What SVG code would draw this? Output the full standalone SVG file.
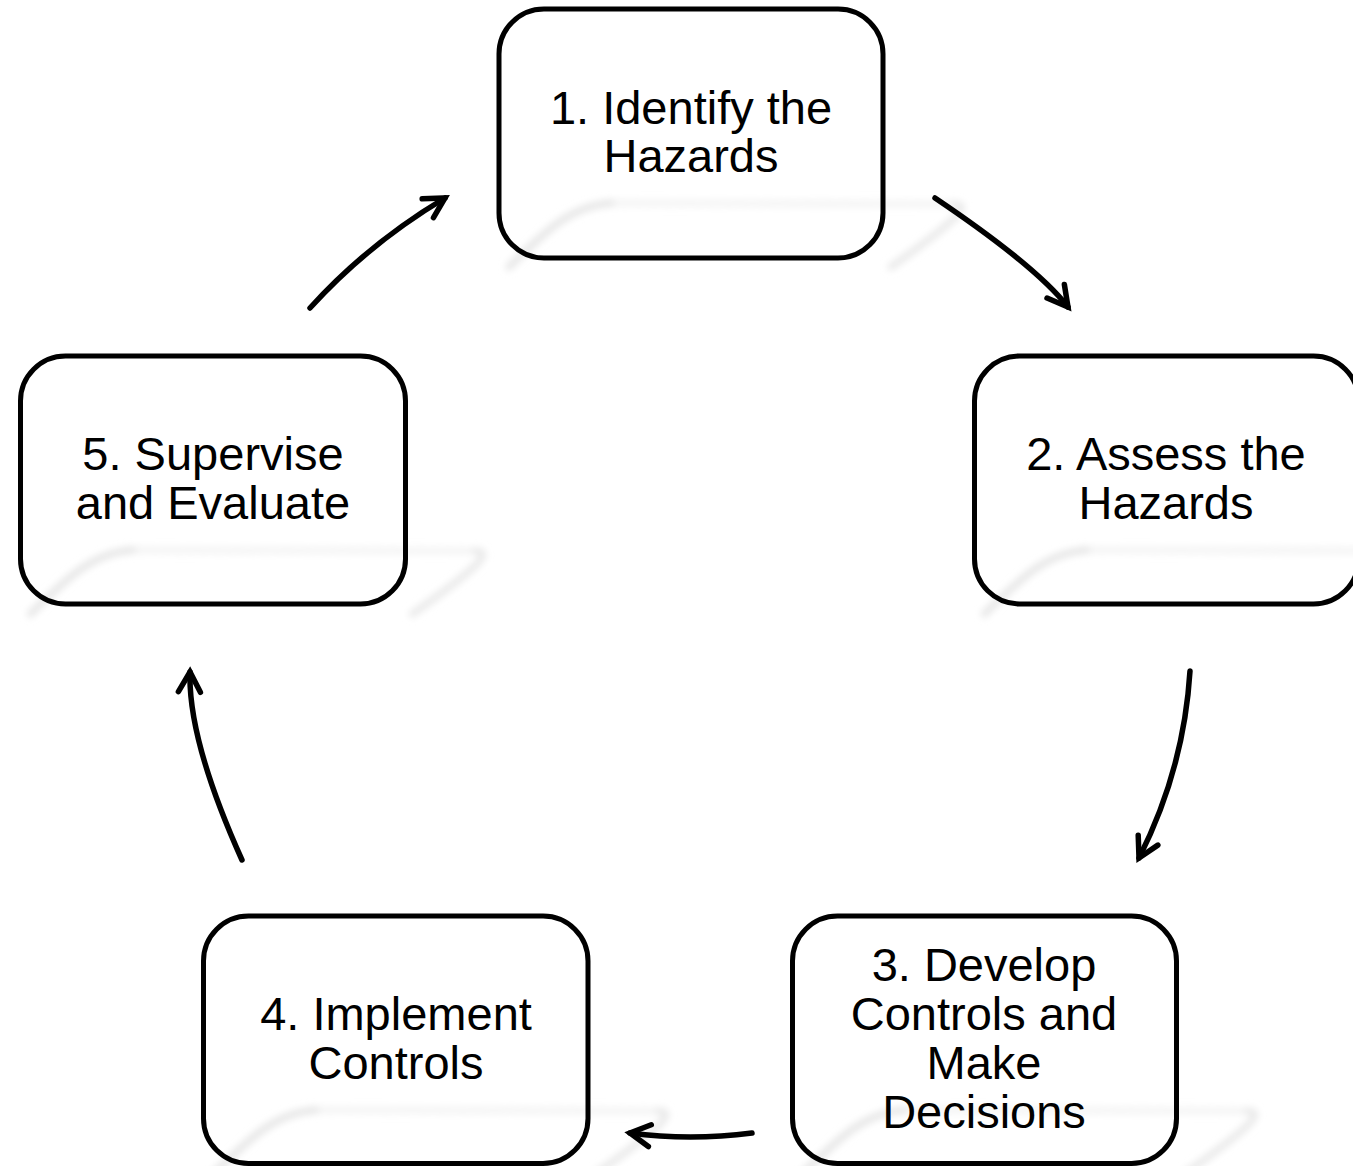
<svg xmlns="http://www.w3.org/2000/svg" xmlns:xlink="http://www.w3.org/1999/xlink" width="1353" height="1166" viewBox="0 0 1353 1166">
  <style>
    .card { fill: #ffffff; stroke: none; }
    .edge { fill: none; stroke: #000000; stroke-width: 5; }
    .label { font-family: "Liberation Sans", Arial, sans-serif; font-size: 47px; fill: #000000; text-anchor: middle; }
    .link { fill: none; stroke: #000000; stroke-width: 5.5; stroke-linecap: round; marker-end: url(#head); }
  </style>
  <defs>
    <filter id="soft" x="-20%" y="-40%" width="140%" height="180%">
      <feGaussianBlur stdDeviation="3.5"/>
    </filter>
    <!-- faint tilted plane reflection behind each card -->
    <g id="plane" filter="url(#soft)">
      <path d="M110,194 L455,195" fill="none" stroke="#f4f4f4" stroke-width="7" stroke-linecap="round"/>
      <path d="M10,258 C45,224 70,197 112,194" fill="none" stroke="#e6e6e6" stroke-width="7" stroke-linecap="round"/>
      <path d="M455,195 C470,196 468,204 392,258" fill="none" stroke="#e9e9e9" stroke-width="7" stroke-linecap="round"/>
    </g>
    <marker id="head" markerUnits="userSpaceOnUse" orient="auto" refX="0" refY="0"
            markerWidth="40" markerHeight="40" viewBox="-30 -20 40 40" overflow="visible">
      <path d="M-20,-11 L0,0 L-20,11" fill="none" stroke="#000000" stroke-width="5.5"
            stroke-linecap="round" stroke-linejoin="miter"/>
    </marker>
  </defs>

  <rect width="1353" height="1166" fill="#ffffff"/>

  <!-- node 1 -->
  <g id="node-identify">
    <rect class="card" x="499" y="9" width="384" height="249" rx="45" ry="45"/>
    <use xlink:href="#plane" href="#plane" x="499" y="9"/>
    <rect class="edge" x="499" y="9" width="384" height="249" rx="45" ry="45"/>
    <text class="label" x="691" y="124">1. Identify the</text>
    <text class="label" x="691" y="172">Hazards</text>
  </g>

  <!-- node 2 -->
  <g id="node-assess">
    <rect class="card" x="974.5" y="356" width="384" height="248" rx="45" ry="45"/>
    <use xlink:href="#plane" href="#plane" x="974.5" y="356"/>
    <rect class="edge" x="974.5" y="356" width="384" height="248" rx="45" ry="45"/>
    <text class="label" x="1166" y="470">2. Assess the</text>
    <text class="label" x="1166" y="519">Hazards</text>
  </g>

  <!-- node 3 -->
  <g id="node-develop">
    <rect class="card" x="792.5" y="916" width="384" height="247.5" rx="45" ry="45"/>
    <use xlink:href="#plane" href="#plane" x="792.5" y="916"/>
    <rect class="edge" x="792.5" y="916" width="384" height="247.5" rx="45" ry="45"/>
    <text class="label" x="984" y="981">3. Develop</text>
    <text class="label" x="984" y="1030">Controls and</text>
    <text class="label" x="984" y="1079">Make</text>
    <text class="label" x="984" y="1128">Decisions</text>
  </g>

  <!-- node 4 -->
  <g id="node-implement">
    <rect class="card" x="203.5" y="916" width="384.5" height="247.5" rx="45" ry="45"/>
    <use xlink:href="#plane" href="#plane" x="203.5" y="916"/>
    <rect class="edge" x="203.5" y="916" width="384.5" height="247.5" rx="45" ry="45"/>
    <text class="label" x="396" y="1030">4. Implement</text>
    <text class="label" x="396" y="1079">Controls</text>
  </g>

  <!-- node 5 -->
  <g id="node-supervise">
    <rect class="card" x="20.5" y="356" width="385" height="248" rx="45" ry="45"/>
    <use xlink:href="#plane" href="#plane" x="20.5" y="356"/>
    <rect class="edge" x="20.5" y="356" width="385" height="248" rx="45" ry="45"/>
    <text class="label" x="213" y="470">5. Supervise</text>
    <text class="label" x="213" y="519">and Evaluate</text>
  </g>

  <!-- cycle connectors -->
  <g id="connectors">
    <path class="link" d="M935,198 Q1036,266 1068,307"/>
    <path class="link" d="M1190,671 Q1184,769 1139,858"/>
    <path class="link" d="M752,1133 Q690,1141 630,1133"/>
    <path class="link" d="M242,860 Q188,740 190,672"/>
    <path class="link" d="M310,308 Q368,244 445,198"/>
  </g>
</svg>
